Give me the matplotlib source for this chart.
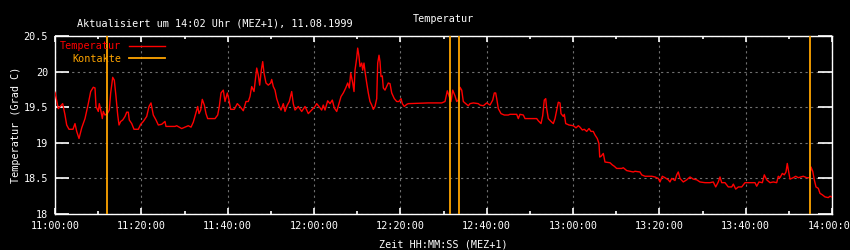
from datetime import datetime, timedelta

import matplotlib
matplotlib.use("Agg")
import matplotlib.dates as mdates
import matplotlib.pyplot as plt
from matplotlib.ticker import MultipleLocator, FuncFormatter

# Messwerte: Minuten nach 11:00 Uhr, Temperatur in Grad C
minutes = [
    0.0, 0.76, 1.78, 2.32, 2.71, 3.24, 4.17, 4.63, 5.03, 5.56, 6.19, 6.95, 7.71, 8.27, 8.87, 9.27,
    9.50, 10.03, 10.26, 10.59, 10.96, 11.19, 11.58, 12.12, 12.58, 12.90, 13.37, 13.74, 14.13, 14.53,
    14.83, 15.22, 15.68, 16.22, 16.61, 16.98, 17.21, 17.77, 18.30, 19.30, 19.85, 20.46, 21.24, 21.78,
    22.24, 22.77, 23.40, 23.93, 24.72, 25.48, 25.71, 27.80, 28.19, 29.35, 30.12, 30.88, 31.51, 32.04,
    32.60, 33.06, 33.36, 33.75, 34.12, 34.59, 34.98, 35.37, 37.07, 37.69, 38.06, 38.46, 38.99, 39.38,
    39.92, 40.31, 40.70, 41.54, 42.23, 42.86, 43.62, 44.25, 44.78, 45.17, 45.57, 46.10, 46.49, 46.73,
    47.10, 47.42, 47.79, 48.12, 48.42, 48.88, 49.41, 49.97, 50.20, 50.57, 50.97, 51.36, 51.96, 52.36,
    52.89, 53.28, 53.82, 54.28, 54.83, 55.20, 55.60, 56.36, 57.15, 57.92, 58.68, 59.47, 60.23, 60.63,
    61.16, 61.78, 62.15, 62.55, 63.17, 63.71, 64.24, 64.70, 65.26, 65.79, 66.26, 66.79, 67.35, 67.81,
    68.18, 68.50, 68.97, 69.27, 69.50, 69.89, 70.12, 70.43, 70.66, 71.05, 71.28, 71.58, 71.82, 72.21,
    72.58, 72.97, 73.37, 73.74, 74.13, 74.53, 74.76, 75.06, 75.29, 75.52, 75.82, 76.06, 76.45, 76.84,
    77.21, 77.61, 78.00, 78.60, 79.16, 79.69, 80.16, 80.46, 80.92, 81.48, 81.85, 86.48, 89.58, 90.35,
    90.88, 91.27, 91.74, 92.13, 92.66, 93.06, 93.43, 93.82, 94.22, 94.59, 95.15, 95.75, 96.14, 96.91,
    98.06, 98.46, 99.22, 100.01, 100.77, 101.40, 101.77, 102.09, 102.33, 102.70, 103.32, 104.09,
    105.01, 105.41, 106.96, 107.33, 107.72, 108.49, 108.88, 111.59, 111.96, 112.59, 112.98, 113.35,
    113.68, 113.91, 114.28, 114.90, 115.44, 115.83, 116.23, 116.60, 116.99, 117.22, 117.75, 117.99,
    118.31, 119.07, 120.07, 120.70, 121.23, 121.62, 122.16, 122.62, 123.17, 123.71, 124.17, 124.70,
    125.10, 125.63, 126.02, 126.19, 126.49, 127.02, 127.41, 128.57, 129.10, 129.57, 130.12, 131.28,
    131.65, 132.44, 133.20, 133.97, 134.36, 135.52, 135.91, 136.68, 138.23, 138.99, 139.76, 140.15,
    140.69, 141.31, 142.08, 142.47, 142.87, 143.63, 144.03, 144.39, 144.79, 145.55, 146.34, 147.10,
    147.87, 148.66, 149.42, 150.58, 151.74, 152.50, 153.06, 153.66, 154.05, 154.45, 155.21, 155.98,
    156.77, 157.14, 157.69, 158.30, 159.08, 159.85, 161.01, 162.16, 162.56, 163.09, 163.86, 164.32,
    164.88, 165.64, 166.40, 167.19, 167.56, 167.95, 168.49, 168.95, 169.34, 169.64, 169.88, 170.27,
    171.04, 171.59, 172.19, 173.35, 174.14, 174.83, 175.13, 175.53, 175.90, 176.29, 176.83, 177.22,
    177.75, 178.38, 179.14, 179.54, 179.93,
]
temperatur = [
    19.71, 19.48, 19.55, 19.39, 19.25, 19.19, 19.19, 19.27, 19.16, 19.06, 19.21, 19.34, 19.55, 19.72, 19.78, 19.77,
    19.51, 19.44, 19.55, 19.46, 19.34, 19.44, 19.39, 19.41, 19.46, 19.70, 19.92, 19.88, 19.65, 19.39,
    19.25, 19.30, 19.32, 19.37, 19.43, 19.43, 19.32, 19.27, 19.19, 19.19, 19.26, 19.30, 19.37, 19.51,
    19.56, 19.39, 19.32, 19.25, 19.26, 19.30, 19.23, 19.23, 19.24, 19.20, 19.22, 19.24, 19.22, 19.29,
    19.41, 19.51, 19.41, 19.46, 19.61, 19.53, 19.41, 19.34, 19.34, 19.39, 19.51, 19.70, 19.74, 19.58,
    19.70, 19.60, 19.47, 19.47, 19.55, 19.51, 19.45, 19.58, 19.58, 19.65, 19.79, 19.72, 19.93, 20.05,
    19.95, 19.81, 20.02, 20.14, 19.98, 19.84, 19.81, 19.84, 19.89, 19.79, 19.74, 19.62, 19.51, 19.46,
    19.55, 19.44, 19.53, 19.58, 19.72, 19.55, 19.46, 19.51, 19.44, 19.51, 19.41, 19.46, 19.51, 19.55,
    19.51, 19.46, 19.53, 19.46, 19.59, 19.55, 19.60, 19.49, 19.44, 19.55, 19.65, 19.70, 19.77, 19.84,
    19.77, 19.98, 19.84, 19.72, 20.02, 20.19, 20.33, 20.21, 20.07, 20.12, 20.02, 20.12, 20.00, 19.84,
    19.70, 19.58, 19.53, 19.47, 19.51, 19.62, 20.12, 20.23, 20.14, 19.93, 19.94, 19.77, 19.74, 19.79,
    19.84, 19.83, 19.70, 19.62, 19.58, 19.58, 19.62, 19.55, 19.51, 19.54, 19.55, 19.56, 19.56, 19.58,
    19.73, 19.66, 19.58, 19.74, 19.66, 19.58, 19.60, 19.78, 19.74, 19.58, 19.55, 19.52, 19.55, 19.56,
    19.55, 19.53, 19.52, 19.56, 19.53, 19.60, 19.70, 19.70, 19.62, 19.48, 19.41, 19.39,
    19.39, 19.40, 19.40, 19.34, 19.40, 19.39, 19.34, 19.34, 19.31, 19.27, 19.38, 19.60,
    19.62, 19.48, 19.34, 19.30, 19.27, 19.34, 19.46, 19.57, 19.56, 19.41, 19.37, 19.40,
    19.27, 19.25, 19.24, 19.21, 19.24, 19.22, 19.18, 19.19, 19.16, 19.20, 19.16, 19.16,
    19.11, 19.06, 18.99, 18.80, 18.81, 18.85, 18.73, 18.72, 18.69, 18.67, 18.64, 18.64,
    18.65, 18.61, 18.60, 18.59, 18.60, 18.59, 18.55, 18.53, 18.53, 18.52, 18.50, 18.45,
    18.53, 18.51, 18.48, 18.45, 18.50, 18.47, 18.55, 18.59, 18.50, 18.45, 18.48, 18.52,
    18.49, 18.48, 18.45, 18.44, 18.44, 18.45, 18.38, 18.45, 18.52, 18.44, 18.44, 18.38,
    18.38, 18.42, 18.35, 18.38, 18.38, 18.44, 18.44, 18.44, 18.39, 18.45, 18.44, 18.55,
    18.48, 18.44, 18.45, 18.44, 18.53, 18.51, 18.57, 18.55, 18.59, 18.71, 18.62, 18.49,
    18.51, 18.53, 18.51, 18.53, 18.51, 18.51, 18.66, 18.60, 18.48, 18.38, 18.36, 18.29,
    18.27, 18.24, 18.23, 18.25, 18.24,
]
# Kontakte (Uhrzeiten)
kontakte = ["11:12:00", "12:31:30", "12:33:40", "13:55:00"]

titel = "Temperatur"
stand = "Aktualisiert um 14:02 Uhr (MEZ+1), 11.08.1999"

start = datetime(1999, 8, 11, 11, 0, 0)
zeit = [start + timedelta(minutes=m) for m in minutes]
kontakt_zeit = [datetime.combine(start.date(), datetime.strptime(k, "%H:%M:%S").time()) for k in kontakte]

mono = "DejaVu Sans Mono"
fs = 7.3
orange = "#ffa500"

fig = plt.figure(figsize=(8.5, 2.5), dpi=100, facecolor="black")
ax = fig.add_axes([55 / 850, 1 - 214 / 250, 777 / 850, 178 / 250], facecolor="black")

ax.plot(zeit, temperatur, color="red", lw=1.0, label="Temperatur", zorder=3)
for i, k in enumerate(kontakt_zeit):
    ax.axvline(k, color=orange, lw=1.3, zorder=4, label="Kontakte" if i == 0 else None)

ax.set_xlim(start, start + timedelta(hours=3))
ax.set_ylim(18, 20.5)
ax.yaxis.set_major_locator(MultipleLocator(0.5))
ax.xaxis.set_major_locator(mdates.MinuteLocator(byminute=[0, 20, 40]))
ax.xaxis.set_minor_locator(mdates.MinuteLocator(byminute=[10, 30, 50]))
ax.xaxis.set_major_formatter(mdates.DateFormatter("%H:%M:%S"))
ax.yaxis.set_major_formatter(FuncFormatter(lambda v, p: f"{v:g}"))

ax.grid(True, which="major", color="#707070", linestyle=(0, (2, 3)), lw=0.8)
for s in ax.spines.values():
    s.set_color("white")
    s.set_linewidth(1.0)
ax.tick_params(axis="y", which="major", direction="in", length=10, width=1.2, color="white",
               left=True, right=True, labelcolor="white", labelsize=fs, pad=5)
ax.tick_params(axis="x", which="major", direction="in", length=4, width=1.2, color="white",
               bottom=True, top=True, labelcolor="white", labelsize=fs, pad=5)
ax.tick_params(axis="x", which="minor", direction="in", length=2, width=1.2, color="white",
               bottom=True, top=True)
for lab in ax.get_xticklabels() + ax.get_yticklabels():
    lab.set_family(mono)

ax.set_xlabel("Zeit HH:MM:SS (MEZ+1)", color="white", fontsize=fs, family=mono, labelpad=6)
ax.set_ylabel("Temperatur (Grad C)", color="white", fontsize=fs, family=mono, labelpad=2)

leg = ax.legend(loc="upper left", frameon=False, markerfirst=False,
                prop={"family": mono, "size": fs}, handlelength=3.5, handletextpad=0.8,
                labelspacing=0.25, borderaxespad=0.4, borderpad=0.1)
for txt, col in zip(leg.get_texts(), ["red", orange]):
    txt.set_color(col)

fig.text(443 / 850, 1 - 22 / 250, titel, color="white", fontsize=fs, family=mono, ha="center")
fig.text(77 / 850, 1 - 26 / 250, stand, color="white", fontsize=fs, family=mono, ha="left")

fig.savefig("out.png", dpi=100, facecolor="black")
